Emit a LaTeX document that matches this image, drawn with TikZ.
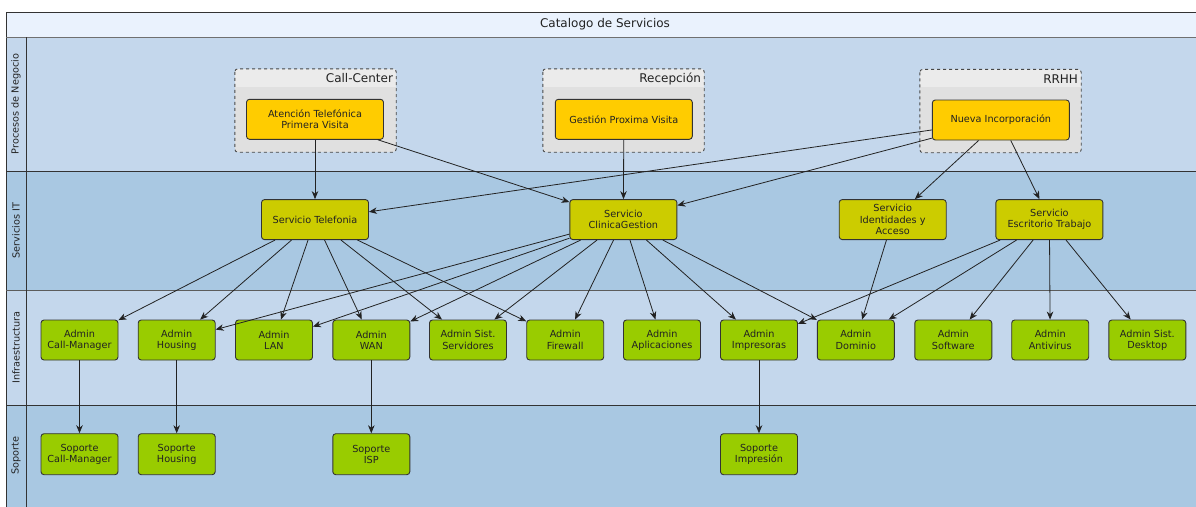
\documentclass[tikz,border=0pt]{standalone}
\usepackage{fontspec}
\setmainfont{DejaVu Sans}
\usetikzlibrary{arrows.meta}

\definecolor{hdrfill}{HTML}{EAF2FD}
\definecolor{laneA}{HTML}{C4D7EC}
\definecolor{laneB}{HTML}{A9C8E2}
\definecolor{grpfill}{HTML}{E0E0E0}
\definecolor{grphead}{HTML}{EBEBEB}
\definecolor{procfill}{HTML}{FFCC00}
\definecolor{svcfill}{HTML}{CCCC00}
\definecolor{inffill}{HTML}{99CC00}
\definecolor{inkdark}{HTML}{222222}
\definecolor{framecol}{HTML}{333333}

\tikzset{
  boxbase/.style={rectangle, rounded corners=3pt, draw=framecol, line width=0.9pt,
    align=center, inner sep=0pt, text=inkdark,
    font=\fontsize{9.7}{11.3}\selectfont},
  procbox/.style={boxbase, fill=procfill, minimum width=137pt, minimum height=40pt},
  svcbox/.style={boxbase, fill=svcfill, minimum width=107pt, minimum height=40pt},
  infbox/.style={boxbase, fill=inffill, minimum width=77pt, minimum height=40pt},
  supbox/.style={boxbase, fill=inffill, minimum width=77pt, minimum height=41pt},
  grpbox/.style={rectangle, rounded corners=3pt, fill=grpfill, inner sep=0pt,
    minimum width=161pt, minimum height=83pt},
  grpline/.style={draw=framecol!90, dashed, line width=0.9pt, rounded corners=3pt},
  grplabel/.style={font=\fontsize{12}{14}\selectfont, text=inkdark, inner sep=0pt},
  lanelabel/.style={rotate=90, font=\fontsize{9.7}{11.3}\selectfont, text=inkdark, inner sep=0pt},
  lanerule/.style={draw=framecol, line width=0.9pt},
  link/.style={draw=inkdark, line width=0.8pt,
    -{Stealth[length=8pt, width=6.5pt, inset=2.5pt]}},
}

% A dashed group frame with a lighter title band and a right-aligned title
\newcommand\poolgroup[4]{% name, centre, title, unused
  \node[grpbox] (#1) at (#2) {};
  \begin{scope}
    \clip[rounded corners=3pt] (#1.north west) rectangle (#1.south east);
    \fill[grphead] (#1.north west) rectangle ([yshift=-18pt]#1.north east);
  \end{scope}
  \path[grpline] (#1.north west) rectangle (#1.south east);
  \node[grplabel, anchor=base east] (#1-title) at ([xshift=-3pt, yshift=-14pt]#1.north east) {#3};
}

\begin{document}
\begin{tikzpicture}[x=1pt, y=-1pt]
\useasboundingbox (0,0) rectangle (1196,506);
\clip (0,0) rectangle (1196,506);
\fill[white] (0,0) rectangle (1196,506);

% lanes
\fill[hdrfill] (6,12) rectangle (1200,37);
\fill[laneA] (6,37) rectangle (1200,171);
\fill[laneB] (6,171) rectangle (1200,290);
\fill[laneA] (6,290) rectangle (1200,405);
\fill[laneB] (6,405) rectangle (1200,510);

\draw[lanerule] (6,510) -- (6,12) -- (1200,12);
\draw[draw=framecol!70, line width=0.8pt] (6,37) -- (1200,37);
\draw[lanerule] (6,171) -- (1200,171);
\draw[draw=framecol!80, line width=1pt] (6,290) -- (1200,290);
\draw[lanerule] (6,405) -- (1200,405);
\draw[lanerule] (26,37) -- (26,510);

\node[font=\fontsize{12}{14}\selectfont, text=inkdark, inner sep=0pt] (title) at (605,24) {Catalogo de Servicios};

\node[lanelabel] (lane1) at (16,104) {Procesos de Negocio};
\node[lanelabel] (lane2) at (16,230.5) {Servicios IT};
\node[lanelabel] (lane3) at (16,347.5) {Infraestructura};
\node[lanelabel] (lane4) at (16,455.5) {Soporte};

% business process groups
\poolgroup{gcall}{315.5,110.5}{Call-Center}{}
\poolgroup{grecep}{623.5,110.5}{Recepción}{}
\poolgroup{grrhh}{1000.5,111}{RRHH}{}

\node[procbox] (atencion) at (315,119.3) {Atención Telefónica\\Primera Visita};
\node[procbox] (gestion) at (623.8,119.3) {Gestión Proxima Visita};
\node[procbox] (nueva) at (1000.8,120) {Nueva Incorporación};

% IT services
\node[svcbox] (tel) at (315,219.6) {Servicio Telefonia};
\node[svcbox] (clin) at (623.4,219.6) {Servicio\\ClinicaGestion};
\node[svcbox] (ident) at (892.7,219.6) {Servicio\\Identidades y\\Acceso};
\node[svcbox] (escr) at (1049.4,219.6) {Servicio\\Escritorio Trabajo};

% infrastructure
\node[infbox] (acm)  at (79.5,340)   {Admin\\Call-Manager};
\node[infbox] (ahou) at (176.7,340)  {Admin\\Housing};
\node[infbox] (alan) at (274,340)    {Admin\\LAN};
\node[infbox] (awan) at (371.3,340)  {Admin\\WAN};
\node[infbox] (asrv) at (468,340)    {Admin Sist.\\Servidores};
\node[infbox] (afw)  at (565.2,340)  {Admin\\Firewall};
\node[infbox] (aapp) at (662,340)    {Admin\\Aplicaciones};
\node[infbox] (aimp) at (759,340)    {Admin\\Impresoras};
\node[infbox] (adom) at (855.8,340)  {Admin\\Dominio};
\node[infbox] (asw)  at (953.3,340)  {Admin\\Software};
\node[infbox] (aav)  at (1050.2,340) {Admin\\Antivirus};
\node[infbox] (adsk) at (1147.3,340) {Admin Sist.\\Desktop};

% support
\node[supbox] (scm)  at (79.5,454.2)  {Soporte\\Call-Manager};
\node[supbox] (shou) at (176.7,454.2) {Soporte\\Housing};
\node[supbox] (sisp) at (371.3,454.2) {Soporte\\ISP};
\node[supbox] (simp) at (759,454.2)   {Soporte\\Impresión};

% process -> service
\draw[link] (atencion) -- (tel);
\draw[link] (atencion) -- (clin);
\draw[link] (gestion) -- (clin);
\draw[link] (nueva) -- (tel);
\draw[link] (nueva) -- (clin);
\draw[link] (nueva) -- (ident);
\draw[link] (nueva) -- (escr);

% service -> infrastructure
\foreach \t in {acm, ahou, alan, awan, asrv, afw}
  \draw[link] (tel) -- (\t);
\foreach \t in {ahou, alan, awan, asrv, afw, aapp, aimp, adom}
  \draw[link] (clin) -- (\t);
\draw[link] (ident) -- (adom);
\foreach \t in {aimp, adom, asw, aav, adsk}
  \draw[link] (escr) -- (\t);

% infrastructure -> support
\draw[link] (acm) -- (scm);
\draw[link] (ahou) -- (shou);
\draw[link] (awan) -- (sisp);
\draw[link] (aimp) -- (simp);
\end{tikzpicture}
\end{document}
